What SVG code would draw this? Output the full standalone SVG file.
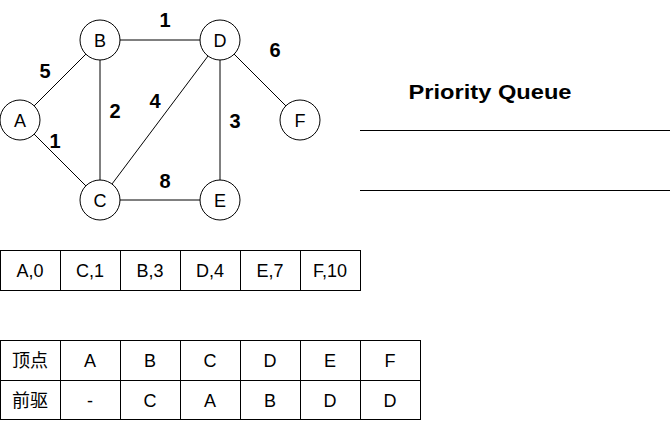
<svg xmlns="http://www.w3.org/2000/svg" width="672" height="421" viewBox="0 0 672 421">
<style>
.n circle{fill:#fff;stroke:#000;stroke-width:1}
.t{font-family:"Liberation Sans",Arial,"Noto Sans CJK SC",sans-serif;font-size:18px;fill:#000;text-anchor:middle;dominant-baseline:central}
.w{font-family:"Liberation Sans",Arial,sans-serif;font-size:20px;font-weight:bold;fill:#000;text-anchor:middle;dominant-baseline:central}
.e line{stroke:#000;stroke-width:1}
.c{fill:#fff;stroke:#000;stroke-width:1}
</style>
<rect width="672" height="421" fill="#fff"/>
<g id="edges" class="e">
<line x1="20" y1="120" x2="100" y2="40"/>
<line x1="20" y1="120" x2="100" y2="200"/>
<line x1="100" y1="40" x2="220" y2="40"/>
<line x1="100" y1="40" x2="100" y2="200"/>
<line x1="100" y1="200" x2="220" y2="40"/>
<line x1="220" y1="40" x2="220" y2="200"/>
<line x1="220" y1="40" x2="300" y2="120"/>
<line x1="100" y1="200" x2="220" y2="200"/>
</g>
<g id="edge-labels">
<text class="w" x="45" y="71">5</text>
<text class="w" x="165" y="20">1</text>
<text class="w" x="275" y="50">6</text>
<text class="w" x="115" y="111">2</text>
<text class="w" x="155" y="101">4</text>
<text class="w" x="235" y="121">3</text>
<text class="w" x="55" y="141">1</text>
<text class="w" x="165" y="181">8</text>
</g>
<g id="node-A" class="n"><circle cx="20" cy="120" r="20"/><text class="t" x="20" y="121">A</text></g>
<g id="node-B" class="n"><circle cx="100" cy="40" r="20"/><text class="t" x="100" y="41">B</text></g>
<g id="node-D" class="n"><circle cx="220" cy="40" r="20"/><text class="t" x="220" y="41">D</text></g>
<g id="node-F" class="n"><circle cx="300" cy="120" r="20"/><text class="t" x="300" y="121">F</text></g>
<g id="node-C" class="n"><circle cx="100" cy="200" r="20"/><text class="t" x="100" y="201">C</text></g>
<g id="node-E" class="n"><circle cx="220" cy="200" r="20"/><text class="t" x="220" y="201">E</text></g>
<g id="priority-queue">
<text x="490" y="91" textLength="163" lengthAdjust="spacingAndGlyphs" style="font-family:'Liberation Sans',Arial,sans-serif;font-size:21px;font-weight:bold;text-anchor:middle;dominant-baseline:central">Priority Queue</text>
<line x1="360" y1="130.5" x2="670" y2="130.5" stroke="#000"/>
<line x1="360" y1="190.5" x2="670" y2="190.5" stroke="#000"/>
</g>
<g id="queue-table">
<rect class="c" x="0.5" y="250.5" width="60" height="40"/><text class="t" x="30" y="271">A,0</text>
<rect class="c" x="60.5" y="250.5" width="60" height="40"/><text class="t" x="90" y="271">C,1</text>
<rect class="c" x="120.5" y="250.5" width="60" height="40"/><text class="t" x="150" y="271">B,3</text>
<rect class="c" x="180.5" y="250.5" width="60" height="40"/><text class="t" x="210" y="271">D,4</text>
<rect class="c" x="240.5" y="250.5" width="60" height="40"/><text class="t" x="270" y="271">E,7</text>
<rect class="c" x="300.5" y="250.5" width="60" height="40"/><text class="t" x="330" y="271">F,10</text>
</g>
<g id="pred-table">
<rect class="c" x="0.5" y="340.5" width="60" height="40"/><text class="t" x="30" y="361">顶点</text>
<rect class="c" x="60.5" y="340.5" width="60" height="40"/><text class="t" x="90" y="361">A</text>
<rect class="c" x="120.5" y="340.5" width="60" height="40"/><text class="t" x="150" y="361">B</text>
<rect class="c" x="180.5" y="340.5" width="60" height="40"/><text class="t" x="210" y="361">C</text>
<rect class="c" x="240.5" y="340.5" width="60" height="40"/><text class="t" x="270" y="361">D</text>
<rect class="c" x="300.5" y="340.5" width="60" height="40"/><text class="t" x="330" y="361">E</text>
<rect class="c" x="360.5" y="340.5" width="60" height="40"/><text class="t" x="390" y="361">F</text>
<rect class="c" x="0.5" y="380.5" width="60" height="39"/><text class="t" x="30" y="401">前驱</text>
<rect class="c" x="60.5" y="380.5" width="60" height="39"/><text class="t" x="90" y="401">-</text>
<rect class="c" x="120.5" y="380.5" width="60" height="39"/><text class="t" x="150" y="401">C</text>
<rect class="c" x="180.5" y="380.5" width="60" height="39"/><text class="t" x="210" y="401">A</text>
<rect class="c" x="240.5" y="380.5" width="60" height="39"/><text class="t" x="270" y="401">B</text>
<rect class="c" x="300.5" y="380.5" width="60" height="39"/><text class="t" x="330" y="401">D</text>
<rect class="c" x="360.5" y="380.5" width="60" height="39"/><text class="t" x="390" y="401">D</text>
</g>
</svg>
